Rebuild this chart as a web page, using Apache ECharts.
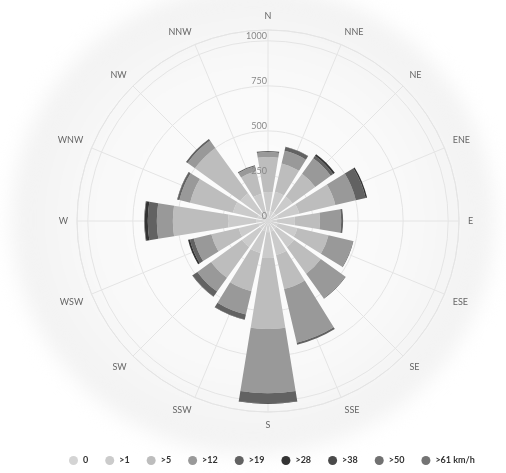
<!DOCTYPE html>
<html><head><meta charset="utf-8">
<script src="https://cdn.jsdelivr.net/npm/echarts@6/dist/echarts.min.js"></script>
<style>
html,body{margin:0;padding:0;background:#fff;width:506px;height:473px;overflow:hidden;}
#bg{position:absolute;left:12px;top:-14px;width:482px;height:468px;border-radius:50%;
background:radial-gradient(ellipse at center,#fcfcfc 0%,#f9f9f9 45%,#f2f2f2 70%,rgba(242,242,242,0) 100%);filter:blur(10px);}
#chart{position:absolute;left:0;top:0;width:506px;height:473px;}
</style></head><body>
<div id="bg"></div><div id="chart"></div>
<script>
const directions = ['N','NNE','NE','ENE','E','ESE','SE','SSE','S','SSW','SW','WSW','W','WNW','NW','NNW'];
const speedBins = ['0','>1','>5','>12','>19','>28','>38','>50','>61 km/h'];
const radiusTicks = [0, 250, 500, 750, 1000];
const s0  = [52,56,54,58,50,55,57,60,62,58,56,54,64,60,58,50];
const s1  = [109,111,113,120,100,112,121,134,144,125,122,113,158,140,131,106];
const s5  = [194,161,156,206,139,178,183,194,394,217,211,156,306,244,311,128];
const s12 = [28,72,106,117,117,139,167,306,356,133,94,100,89,61,50,28];
const s19 = [6,22,17,56,11,3,3,11,56,28,33,22,50,11,11,6];
const s28 = [0,2,11,8,0,0,0,0,3,2,2,11,17,2,0,0];
const s38 = [0,0,0,0,0,0,0,0,0,0,0,0,3,0,0,0];
const s50 = [0,0,0,0,0,0,0,0,0,0,0,0,0,0,0,0];
const s61 = [0,0,0,0,0,0,0,0,0,0,0,0,0,0,0,0];
const seriesValues = [s0,s1,s5,s12,s19,s28,s38,s50,s61];
const colors = ['#d4d4d4','#cbcbcb','#bdbdbd','#999999','#626262','#333333','#4a4a4a','#717171','#747474'];

const chart = echarts.init(document.getElementById('chart'));
const C = [268, 221], R = 191, MAX = 1060;
const grid = '#e4e4e4';
const font = 'Lato, "Open Sans", sans-serif';
chart.setOption({
  animation: false,
  legend: {
    bottom: 3, left: 64, icon: 'circle', itemWidth: 9, itemHeight: 9, itemGap: 17,
    textStyle: {fontSize: 9, fontWeight: 'bold', color: '#333', fontFamily: font},
    data: speedBins
  },
  polar: [{center: C, radius: R}, {center: C, radius: R}, {center: C, radius: R}],
  angleAxis: [
    {polarIndex: 0, type: 'value', min: 0, max: 360, interval: 22.5, startAngle: 90, clockwise: true,
     axisLine: {show: true, lineStyle: {color: grid}}, axisTick: {show: false}, axisLabel: {show: false},
     splitLine: {show: true, lineStyle: {color: grid}}},
    {polarIndex: 1, type: 'category', data: directions, startAngle: 101.25, clockwise: true, boundaryGap: true,
     axisLine: {show: false}, axisTick: {show: false}, splitLine: {show: false},
     axisLabel: {color: '#666', fontSize: 9, margin: 9, fontFamily: font}},
    {polarIndex: 2, type: 'value', min: 0, max: 360, startAngle: 90, show: false,
     axisLine: {show: false}, axisTick: {show: false}, axisLabel: {show: false}, splitLine: {show: false}}
  ],
  radiusAxis: [
    {polarIndex: 0, type: 'value', min: 0, max: MAX, interval: 250,
     axisLine: {show: false}, axisTick: {show: false}, axisLabel: {show: false},
     splitLine: {show: true, lineStyle: {color: grid}}},
    {polarIndex: 1, type: 'value', min: 0, max: MAX,
     axisLine: {show: false}, axisTick: {show: false}, axisLabel: {show: false}, splitLine: {show: false}},
    {polarIndex: 2, type: 'value', min: 0, max: MAX, interval: 250, z: 10,
     axisLine: {show: false}, axisTick: {show: false}, splitLine: {show: false},
     axisLabel: {color: '#888', fontSize: 9, fontFamily: font, margin: 1, verticalAlign: 'bottom',
       formatter: v => radiusTicks.indexOf(v) >= 0 ? String(v) : ''}}
  ],
  series: speedBins.map((name, i) => ({
    name, type: 'bar', coordinateSystem: 'polar', polarIndex: 1, stack: 'wind',
    barCategoryGap: '18%', data: seriesValues[i], itemStyle: {color: colors[i]}
  }))
});
</script>
</body></html>
